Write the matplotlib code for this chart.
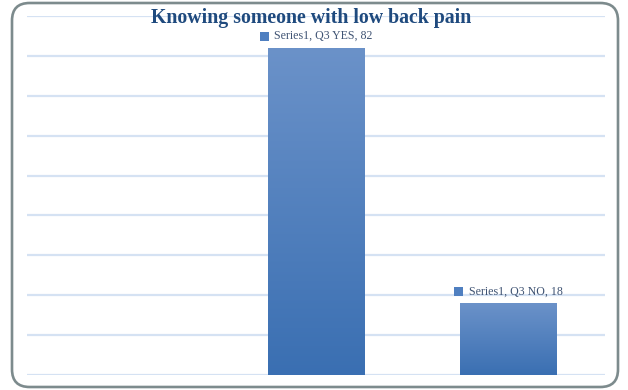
import numpy as np
import matplotlib
matplotlib.use("Agg")
import matplotlib.pyplot as plt
from matplotlib.patches import FancyBboxPatch, Rectangle
from matplotlib.offsetbox import AnnotationBbox, HPacker, TextArea, DrawingArea

# data
categories = ["", "Q3 YES", "Q3 NO"]
values = [0, 82, 18]
series_name = "Series1"
title = "Knowing someone with low back pain"

fig = plt.figure(figsize=(6.28, 3.9), dpi=100)
fig.patch.set_facecolor("white")

# rounded outer frame
frame = FancyBboxPatch((12 / 628, 3 / 390), 606 / 628, 384 / 390,
                       boxstyle="round,pad=0,rounding_size=0.028",
                       transform=fig.transFigure, facecolor="none",
                       edgecolor="#7d8b8d", linewidth=1.9, mutation_aspect=628 / 390)
fig.patches.append(frame)

ax = fig.add_axes([27 / 628, 15 / 390, 578 / 628, 359 / 390])
x = np.arange(len(categories))
bars = ax.bar(x, values, width=0.5, color="none", zorder=3)

# vertical gradient inside each bar
grad = np.linspace(0, 1, 256).reshape(-1, 1)
cmap = matplotlib.colors.LinearSegmentedColormap.from_list("bar", ["#3a6fb2", "#6b92c9"])
for b in bars:
    h = b.get_height()
    if h <= 0:
        continue
    x0 = b.get_x()
    im = ax.imshow(grad, cmap=cmap, aspect="auto", origin="lower",
                   extent=(x0, x0 + b.get_width(), 0, h), zorder=3)
    im.set_clip_path(b)

ax.set_xlim(-0.5, len(categories) - 0.5)
ax.set_ylim(0, 90)
ax.set_yticks(np.arange(0, 91, 10))
ax.yaxis.grid(True, color="#d5e2f3", linewidth=1.6, zorder=0)
ax.set_axisbelow(True)
ax.tick_params(left=False, bottom=False, labelleft=False, labelbottom=False)
for s in ax.spines.values():
    s.set_visible(False)

# data labels: small square + text
for xi, cat, v in zip(x, categories, values):
    if v <= 0:
        continue
    da = DrawingArea(7, 7, 0, 0)
    da.add_artist(Rectangle((0, 0), 6.5, 6.5, facecolor="#4f7fc0", edgecolor="none"))
    ta = TextArea(f"{series_name}, {cat}, {v}",
                  textprops=dict(family="Liberation Serif", size=8.6, color="#3f5373"))
    pack = HPacker(children=[da, ta], pad=0, sep=3.5, align="center")
    ab = AnnotationBbox(pack, (xi, v), xybox=(0, 8.5), xycoords="data",
                        boxcoords="offset points", frameon=False, box_alignment=(0.5, 0.5))
    ax.add_artist(ab)

fig.text(311 / 628, 1 - 18 / 390, title, ha="center", va="center",
         family="Liberation Serif", weight="bold", size=14.3, color="#1f4a7e")

fig.savefig("out.png", dpi=100)
